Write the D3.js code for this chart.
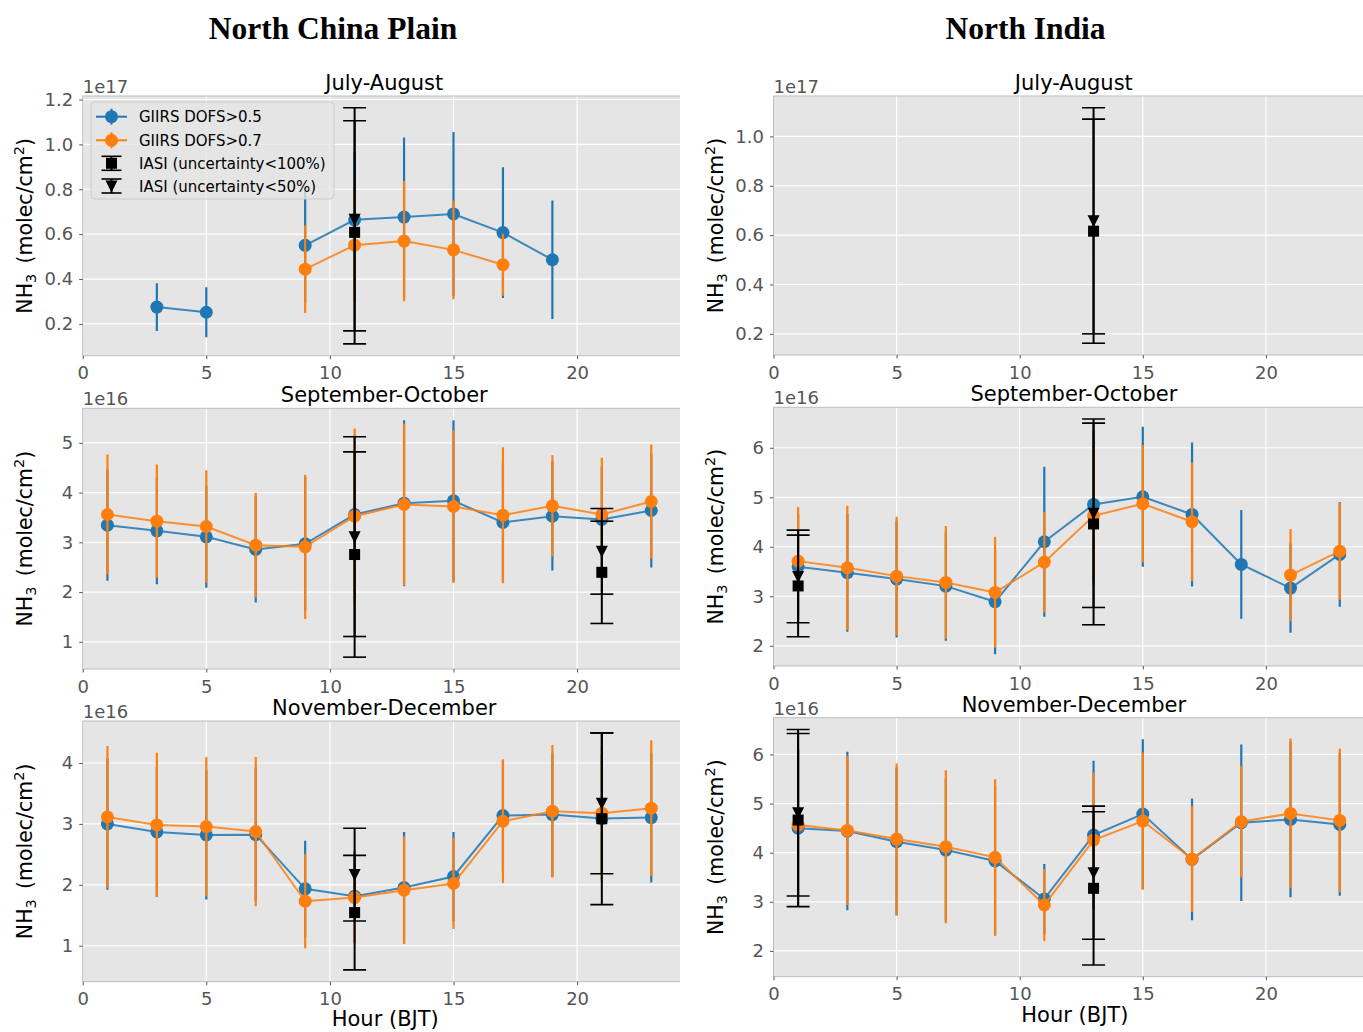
<!DOCTYPE html>
<html>
<head>
<meta charset="utf-8">
<script src="https://cdn.jsdelivr.net/npm/d3@7"></script>
<style>
  html, body { margin: 0; padding: 0; background: #ffffff; }
  svg { display: block; }
</style>
</head>
<body>
<svg id="chart" width="1363" height="1032"></svg>
<script>
// ---------------- DATA ----------------
const hours = [1, 3, 5, 7, 9, 11, 13, 15, 17, 19, 21, 23];
const xTicks = [0, 5, 10, 15, 20];
const regionTitles = ["North China Plain", "North India"];
const seasonTitles = ["July-August", "September-October", "November-December"];
const legendLabels = ["GIIRS DOFS>0.5", "GIIRS DOFS>0.7", "IASI (uncertainty<100%)", "IASI (uncertainty<50%)"];

// North China Plain, July-August (x 1e17 molec/cm2)
const ncpJA_exp = 17;
const ncpJA_yTicks = [0.2, 0.4, 0.6, 0.8, 1.0, 1.2];
const ncpJA_d05 = [null, 0.275, 0.252, null, 0.550, 0.664, 0.676, 0.690, 0.607, 0.486, null, null];
const ncpJA_d05err = [null, 0.106, 0.111, null, 0.256, 0.300, 0.355, 0.365, 0.291, 0.264, null, null];
const ncpJA_d07 = [null, null, null, null, 0.444, 0.551, 0.569, 0.530, 0.464, null, null, null];
const ncpJA_d07err = [null, null, null, null, 0.195, 0.250, 0.268, 0.220, 0.138, null, null, null];
const ncpJA_iasiHours = [11];
const ncpJA_iasi100 = [0.608];
const ncpJA_iasi100err = [0.497];
const ncpJA_iasi50 = [0.666];
const ncpJA_iasi50err = [0.497];

// North China Plain, September-October (x 1e16)
const ncpSO_exp = 16;
const ncpSO_yTicks = [1, 2, 3, 4, 5];
const ncpSO_d05 = [3.345, 3.231, 3.111, 2.856, 2.970, 3.560, 3.787, 3.834, 3.399, 3.526, 3.459, 3.640];
const ncpSO_d05err = [1.119, 1.072, 1.026, 1.065, 1.350, 1.600, 1.669, 1.622, 1.206, 1.092, 1.072, 1.146];
const ncpSO_d07 = [3.559, 3.425, 3.318, 2.943, 2.910, 3.526, 3.760, 3.720, 3.546, 3.734, 3.559, 3.821];
const ncpSO_d07err = [1.206, 1.139, 1.133, 1.052, 1.450, 1.762, 1.629, 1.535, 1.367, 1.018, 1.139, 1.145];
const ncpSO_iasiHours = [11, 21];
const ncpSO_iasi100 = [2.755, 2.397];
const ncpSO_iasi100err = [2.063, 1.028];
const ncpSO_iasi50 = [3.114, 2.819];
const ncpSO_iasi50err = [2.007, 0.861];

// North China Plain, November-December (x 1e16)
const ncpND_exp = 16;
const ncpND_yTicks = [1, 2, 3, 4];
const ncpND_d05 = [3.000, 2.868, 2.819, 2.824, 1.934, 1.813, 1.956, 2.137, 3.137, 3.154, 3.088, 3.104];
const ncpND_d05err = [1.080, 1.070, 1.060, 1.088, 0.791, 0.750, 0.912, 0.731, 0.910, 1.016, 1.050, 1.066];
const ncpND_d07 = [3.115, 2.984, 2.956, 2.874, 1.731, 1.791, 1.912, 2.022, 3.044, 3.209, 3.176, 3.258];
const ncpND_d07err = [1.165, 1.186, 1.143, 1.225, 0.774, 0.750, 0.885, 0.747, 1.016, 1.088, 1.100, 1.116];
const ncpND_iasiHours = [11, 21];
const ncpND_iasi100 = [1.544, 3.085];
const ncpND_iasi100err = [0.940, 1.410];
const ncpND_iasi50 = [2.168, 3.338];
const ncpND_iasi50err = [0.761, 1.157];

// North India, July-August (x 1e17)
const niJA_exp = 17;
const niJA_yTicks = [0.2, 0.4, 0.6, 0.8, 1.0];
const niJA_d05 = [null, null, null, null, null, null, null, null, null, null, null, null];
const niJA_d05err = [null, null, null, null, null, null, null, null, null, null, null, null];
const niJA_d07 = [null, null, null, null, null, null, null, null, null, null, null, null];
const niJA_d07err = [null, null, null, null, null, null, null, null, null, null, null, null];
const niJA_iasiHours = [13];
const niJA_iasi100 = [0.616];
const niJA_iasi100err = [0.454];
const niJA_iasi50 = [0.658];
const niJA_iasi50err = [0.458];

// North India, September-October (x 1e16)
const niSO_exp = 16;
const niSO_yTicks = [2, 3, 4, 5, 6];
const niSO_d05 = [3.596, 3.475, 3.347, 3.205, 2.889, 4.101, 4.855, 5.010, 4.653, 3.643, 3.165, 3.845];
const niSO_d05err = [1.070, 1.192, 1.179, 1.104, 1.060, 1.515, 1.500, 1.414, 1.455, 1.098, 0.902, 1.057];
const niSO_d07 = [3.710, 3.576, 3.407, 3.279, 3.077, 3.690, 4.626, 4.869, 4.505, null, 3.428, 3.912];
const niSO_d07err = [1.091, 1.252, 1.199, 1.139, 1.118, 1.017, 1.400, 1.185, 1.199, null, 0.929, 0.984];
const niSO_iasiHours = [1, 13];
const niSO_iasi100 = [3.209, 4.461];
const niSO_iasi100err = [1.027, 2.037];
const niSO_iasi50 = [3.401, 4.677];
const niSO_iasi50err = [0.936, 1.903];

// North India, November-December (x 1e16)
const niND_exp = 16;
const niND_yTicks = [2, 3, 4, 5, 6];
const niND_d05 = [4.500, 4.441, 4.224, 4.054, 3.831, 3.058, 4.359, 4.786, 3.864, 4.610, 4.678, 4.576];
const niND_d05err = [1.600, 1.613, 1.505, 1.450, 1.519, 0.711, 1.512, 1.526, 1.241, 1.593, 1.586, 1.451];
const niND_d07 = [4.563, 4.454, 4.278, 4.122, 3.905, 2.936, 4.258, 4.644, 3.871, 4.631, 4.800, 4.658];
const niND_d07err = [1.550, 1.519, 1.539, 1.559, 1.593, 0.732, 1.376, 1.397, 1.078, 1.138, 1.525, 1.464];
const niND_iasiHours = [1, 13];
const niND_iasi100 = [4.665, 3.275];
const niND_iasi100err = [1.763, 1.560];
const niND_iasi50 = [4.814, 3.593];
const niND_iasi50err = [1.695, 1.356];

// ---------------- PANEL TABLE (built from the arrays) ----------------
function P(col, row, exp, yTicks, d05, d05err, d07, d07err, ih, i100, i100e, i50, i50e) {
  return { col, row, exp, yTicks, d05, d05err, d07, d07err, ih, i100, i100e, i50, i50e };
}
const panels = [
  P(0, 0, ncpJA_exp, ncpJA_yTicks, ncpJA_d05, ncpJA_d05err, ncpJA_d07, ncpJA_d07err, ncpJA_iasiHours, ncpJA_iasi100, ncpJA_iasi100err, ncpJA_iasi50, ncpJA_iasi50err),
  P(0, 1, ncpSO_exp, ncpSO_yTicks, ncpSO_d05, ncpSO_d05err, ncpSO_d07, ncpSO_d07err, ncpSO_iasiHours, ncpSO_iasi100, ncpSO_iasi100err, ncpSO_iasi50, ncpSO_iasi50err),
  P(0, 2, ncpND_exp, ncpND_yTicks, ncpND_d05, ncpND_d05err, ncpND_d07, ncpND_d07err, ncpND_iasiHours, ncpND_iasi100, ncpND_iasi100err, ncpND_iasi50, ncpND_iasi50err),
  P(1, 0, niJA_exp, niJA_yTicks, niJA_d05, niJA_d05err, niJA_d07, niJA_d07err, niJA_iasiHours, niJA_iasi100, niJA_iasi100err, niJA_iasi50, niJA_iasi50err),
  P(1, 1, niSO_exp, niSO_yTicks, niSO_d05, niSO_d05err, niSO_d07, niSO_d07err, niSO_iasiHours, niSO_iasi100, niSO_iasi100err, niSO_iasi50, niSO_iasi50err),
  P(1, 2, niND_exp, niND_yTicks, niND_d05, niND_d05err, niND_d07, niND_d07err, niND_iasiHours, niND_iasi100, niND_iasi100err, niND_iasi50, niND_iasi50err)
];

// ---------------- LAYOUT & STYLE ----------------
const L = {
  colX0: [82.7, 773.5],
  colPPU: [24.72, 24.62],
  xMax: 24.4,
  cropRight: [680, 1363],
  rowTop: [[96, 408.3, 721], [96, 407.3, 717.7]],
  rowBot: [[355.7, 669, 981.7], [355, 666, 976.7]],
  regionTitleX: [333, 1025.5],
  regionTitleY: 39,
  yLabelX: [32, 723]
};
const C = {
  blue: "#1f77b4", orange: "#ff7f0e", black: "#000000",
  bg: "#e5e5e5", grid: "#ffffff", frame: "#bdbdbd", tick: "#555555"
};
const SANS = "'DejaVu Sans', Verdana, sans-serif";
const SERIF = "'Liberation Serif', 'Times New Roman', serif";

const svg = d3.select("#chart");

// region titles
regionTitles.forEach((t, i) => {
  svg.append("text").attr("x", L.regionTitleX[i]).attr("y", L.regionTitleY)
    .attr("text-anchor", "middle")
    .style("font-family", SERIF).style("font-weight", "bold").style("font-size", "31.5px")
    .style("fill", "#000").text(t);
});

function yDomain(p) {
  let lo = Infinity, hi = -Infinity;
  const acc = (vals, errs) => vals.forEach((v, i) => {
    if (v == null) return;
    lo = Math.min(lo, v - errs[i]); hi = Math.max(hi, v + errs[i]);
  });
  acc(p.d05, p.d05err); acc(p.d07, p.d07err); acc(p.i100, p.i100e); acc(p.i50, p.i50e);
  const pad = (hi - lo) * 0.05;
  return [lo - pad, hi + pad];
}

function drawPanel(p) {
  const c = p.col, r = p.row;
  const x0 = L.colX0[c];
  const x1 = x0 + L.xMax * L.colPPU[c];
  const xr = Math.min(x1, L.cropRight[c]);
  const top = L.rowTop[c][r], bot = L.rowBot[c][r];
  const x = d3.scaleLinear().domain([0, L.xMax]).range([x0, x1]);
  const y = d3.scaleLinear().domain(yDomain(p)).range([bot, top]);
  const g = svg.append("g");

  const clipId = `clip-${c}-${r}`;
  g.append("clipPath").attr("id", clipId).append("rect")
    .attr("x", x0).attr("y", top).attr("width", xr - x0).attr("height", bot - top);

  // background
  g.append("rect").attr("x", x0).attr("y", top).attr("width", xr - x0).attr("height", bot - top)
    .attr("fill", C.bg);

  // grid
  const grid = g.append("g").attr("clip-path", `url(#${clipId})`);
  grid.selectAll("line.gy").data(p.yTicks).join("line")
    .attr("x1", x0).attr("x2", xr).attr("y1", d => y(d)).attr("y2", d => y(d))
    .attr("stroke", C.grid).attr("stroke-width", 1.2);
  grid.selectAll("line.gx").data(xTicks).join("line").attr("class", "gx")
    .attr("x1", d => x(d)).attr("x2", d => x(d)).attr("y1", top).attr("y2", bot)
    .attr("stroke", C.grid).attr("stroke-width", 1.2);

  const data = g.append("g").attr("clip-path", `url(#${clipId})`);

  function giirs(vals, errs, color) {
    const pts = hours.map((h, i) => ({ h, v: vals[i], e: errs[i] }));
    const def = pts.filter(d => d.v != null);
    data.append("g").selectAll("line").data(def).join("line")
      .attr("x1", d => x(d.h)).attr("x2", d => x(d.h))
      .attr("y1", d => y(d.v - d.e)).attr("y2", d => y(d.v + d.e))
      .attr("stroke", color).attr("stroke-width", 2.2);
    data.append("path").datum(pts)
      .attr("d", d3.line().defined(d => d.v != null).x(d => x(d.h)).y(d => y(d.v)))
      .attr("fill", "none").attr("stroke", color).attr("stroke-width", 2).attr("stroke-opacity", 0.85);
    data.append("g").selectAll("circle").data(def).join("circle")
      .attr("cx", d => x(d.h)).attr("cy", d => y(d.v)).attr("r", 6.5)
      .attr("fill", color);
  }
  giirs(p.d05, p.d05err, C.blue);
  giirs(p.d07, p.d07err, C.orange);

  function iasi(vals, errs, shape) {
    const pts = p.ih.map((h, i) => ({ h, v: vals[i], e: errs[i] }));
    const eg = data.append("g");
    pts.forEach(d => {
      const cx = x(d.h);
      eg.append("line").attr("x1", cx).attr("x2", cx).attr("y1", y(d.v - d.e)).attr("y2", y(d.v + d.e))
        .attr("stroke", C.black).attr("stroke-width", 2);
      [d.v - d.e, d.v + d.e].forEach(v => {
        eg.append("line").attr("x1", cx - 11.5).attr("x2", cx + 11.5).attr("y1", y(v)).attr("y2", y(v))
          .attr("stroke", C.black).attr("stroke-width", 1.6);
      });
      const cy = y(d.v);
      if (shape === "square") {
        eg.append("rect").attr("x", cx - 5.5).attr("y", cy - 5.5).attr("width", 11).attr("height", 11)
          .attr("fill", C.black);
      } else {
        eg.append("path").attr("d", `M${cx - 6},${cy - 5.5}L${cx + 6},${cy - 5.5}L${cx},${cy + 6.5}Z`)
          .attr("fill", C.black);
      }
    });
  }
  iasi(p.i100, p.i100e, "square");
  iasi(p.i50, p.i50e, "triangle");

  // frame
  const fr = g.append("g").attr("stroke", C.frame).attr("stroke-width", 1).attr("fill", "none");
  fr.append("line").attr("x1", x0).attr("x2", xr).attr("y1", top).attr("y2", top);
  fr.append("line").attr("x1", x0).attr("x2", xr).attr("y1", bot).attr("y2", bot);
  fr.append("line").attr("x1", x0).attr("x2", x0).attr("y1", top).attr("y2", bot);

  // axes
  const fmt = p.exp === 17 ? d3.format(".1f") : d3.format("d");
  const ya = g.append("g").attr("transform", `translate(${x0},0)`)
    .call(d3.axisLeft(y).tickValues(p.yTicks).tickFormat(fmt).tickSize(3.5).tickPadding(6));
  const xa = g.append("g").attr("transform", `translate(0,${bot})`)
    .call(d3.axisBottom(x).tickValues(xTicks).tickFormat(d3.format("d")).tickSize(3.5).tickPadding(7.5));
  [ya, xa].forEach(a => {
    a.select(".domain").remove();
    a.selectAll(".tick line").attr("stroke", C.tick).attr("stroke-width", 1);
    a.selectAll(".tick text").attr("fill", C.tick)
      .style("font-family", SANS).style("font-size", "18px");
  });

  // offset text
  g.append("text").attr("x", x0).attr("y", top - 3)
    .style("font-family", SANS).style("font-size", "18px").style("fill", C.tick)
    .text(`1e${p.exp}`);

  // subplot title
  g.append("text").attr("x", (x0 + x1) / 2).attr("y", top - 6).attr("text-anchor", "middle")
    .style("font-family", SANS).style("font-size", "21px").style("fill", "#000")
    .text(seasonTitles[r]);

  // y label
  const yl = g.append("text")
    .attr("transform", `translate(${L.yLabelX[c]},${(top + bot) / 2}) rotate(-90)`)
    .attr("text-anchor", "middle")
    .style("font-family", SANS).style("font-size", "20.5px").style("fill", "#000");
  yl.append("tspan").text("NH");
  yl.append("tspan").attr("dy", 4).style("font-size", "14.5px").text("3");
  yl.append("tspan").attr("dy", -4).text("\u2002(molec/cm");
  yl.append("tspan").attr("dy", -8).style("font-size", "14.5px").text("2");
  yl.append("tspan").attr("dy", 8).text(")");

  // x label on bottom row (kept fully inside the picture)
  if (r === 2) {
    g.append("text").attr("x", (x0 + x1) / 2 + 1).attr("y", Math.min(bot + 45, 1025.5)).attr("text-anchor", "middle")
      .style("font-family", SANS).style("font-size", "21px").style("fill", "#000")
      .text("Hour (BJT)");
  }

  // legend (top-left panel only)
  if (c === 0 && r === 0) {
    const lg = g.append("g");
    lg.append("rect").attr("x", 91).attr("y", 102).attr("width", 243).attr("height", 97).attr("rx", 4)
      .attr("fill", C.bg).attr("fill-opacity", 0.8).attr("stroke", "#cccccc").attr("stroke-width", 1);
    const rowsY = [116.7, 140.3, 163.3, 186];
    const hx = 111.5;
    [C.blue, C.orange].forEach((col, i) => {
      const yy = rowsY[i];
      lg.append("line").attr("x1", 96).attr("x2", 127).attr("y1", yy).attr("y2", yy)
        .attr("stroke", col).attr("stroke-width", 2);
      lg.append("line").attr("x1", hx).attr("x2", hx).attr("y1", yy - 8).attr("y2", yy + 8)
        .attr("stroke", col).attr("stroke-width", 2);
      lg.append("circle").attr("cx", hx).attr("cy", yy).attr("r", 6.5).attr("fill", col);
    });
    [2, 3].forEach(i => {
      const yy = rowsY[i];
      lg.append("line").attr("x1", hx).attr("x2", hx).attr("y1", yy - 7).attr("y2", yy + 7)
        .attr("stroke", C.black).attr("stroke-width", 2);
      [yy - 7, yy + 7].forEach(v => lg.append("line").attr("x1", hx - 10).attr("x2", hx + 10)
        .attr("y1", v).attr("y2", v).attr("stroke", C.black).attr("stroke-width", 1.6));
      if (i === 2) {
        lg.append("rect").attr("x", hx - 5.5).attr("y", yy - 5.5).attr("width", 11).attr("height", 11).attr("fill", C.black);
      } else {
        lg.append("path").attr("d", `M${hx - 6},${yy - 5.5}L${hx + 6},${yy - 5.5}L${hx},${yy + 6.5}Z`).attr("fill", C.black);
      }
    });
    legendLabels.forEach((t, i) => {
      lg.append("text").attr("x", 139).attr("y", rowsY[i] + 5.5)
        .style("font-family", SANS).style("font-size", "15px").style("fill", "#000").text(t);
    });
  }
}

panels.forEach(drawPanel);
</script>
</body>
</html>
